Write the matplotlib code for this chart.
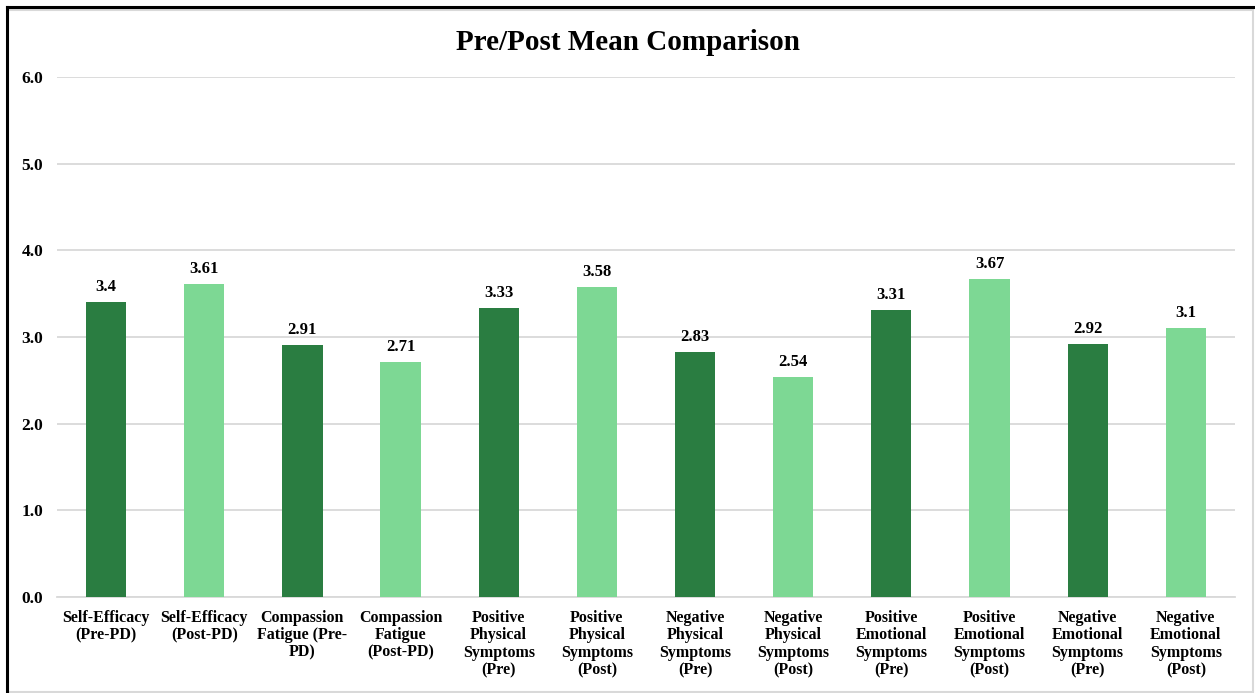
import numpy as np
import matplotlib.pyplot as plt
from matplotlib.lines import Line2D
from matplotlib.patches import Rectangle

plt.rcParams['font.family'] = ['Liberation Serif', 'DejaVu Serif']

categories = [
    'Self-Efficacy\n(Pre-PD)', 'Self-Efficacy\n(Post-PD)',
    'Compassion\nFatigue (Pre-\nPD)', 'Compassion\nFatigue\n(Post-PD)',
    'Positive\nPhysical\nSymptoms\n(Pre)', 'Positive\nPhysical\nSymptoms\n(Post)',
    'Negative\nPhysical\nSymptoms\n(Pre)', 'Negative\nPhysical\nSymptoms\n(Post)',
    'Positive\nEmotional\nSymptoms\n(Pre)', 'Positive\nEmotional\nSymptoms\n(Post)',
    'Negative\nEmotional\nSymptoms\n(Pre)', 'Negative\nEmotional\nSymptoms\n(Post)',
]
means = [3.4, 3.61, 2.91, 2.71, 3.33, 3.58, 2.83, 2.54, 3.31, 3.67, 2.92, 3.1]
value_labels = ['3.4', '3.61', '2.91', '2.71', '3.33', '3.58',
                '2.83', '2.54', '3.31', '3.67', '2.92', '3.1']

dark = '#2A7D41'
light = '#7DD894'
colors = [dark if i % 2 == 0 else light for i in range(len(means))]

fig = plt.figure(figsize=(12.55, 6.93), dpi=100)
ax = fig.add_axes([0.0454, 0.1385, 0.9386, 0.7504])

x = np.arange(len(means))
bars = ax.bar(x, means, width=0.41, color=colors, zorder=3)

for b, lab in zip(bars, value_labels):
    ax.annotate(lab, xy=(b.get_x() + b.get_width() / 2, b.get_height()),
                xytext=(0, 5), textcoords='offset points',
                ha='center', va='bottom', fontsize=12, fontweight='bold')

ax.set_xlim(-0.5, len(means) - 0.5)
ax.set_ylim(0, 6)
ax.set_yticks(np.arange(0, 7, 1))
ax.set_yticklabels(['%.1f' % v for v in np.arange(0, 7, 1)],
                   fontsize=12.5, fontweight='bold')
ax.set_xticks(x)
ax.set_xticklabels(categories, fontsize=11.5, fontweight='bold',
                   linespacing=1.13)
ax.tick_params(axis='both', length=0)
ax.tick_params(axis='y', pad=10)
ax.tick_params(axis='x', pad=9)
ax.grid(axis='y', color='#d9d9d9', lw=1.3, zorder=0)
for s in ['top', 'right', 'left']:
    ax.spines[s].set_visible(False)
ax.spines['bottom'].set_color('#d9d9d9')
ax.spines['bottom'].set_linewidth(1.3)

fig.text(0.5, 0.939, 'Pre/Post Mean Comparison', ha='center', va='center',
         fontsize=21, fontweight='bold')

# chart frame: light grey box with a heavier black edge on top and left
W, H = 1255.0, 693.0
fig.patches.append(Rectangle((8 / W, 1.5 / H), (1245 / W), (682 / H),
                             transform=fig.transFigure, fill=False,
                             edgecolor='#d9d9d9', lw=1.5))
fig.lines.append(Line2D([7 / W, 1], [1 - 7 / H, 1 - 7 / H],
                        transform=fig.transFigure, color='black', lw=2.2))
fig.lines.append(Line2D([7 / W, 7 / W], [0, 1 - 7 / H],
                        transform=fig.transFigure, color='black', lw=2.2))

fig.savefig('out.png', dpi=100)
plt.close(fig)
